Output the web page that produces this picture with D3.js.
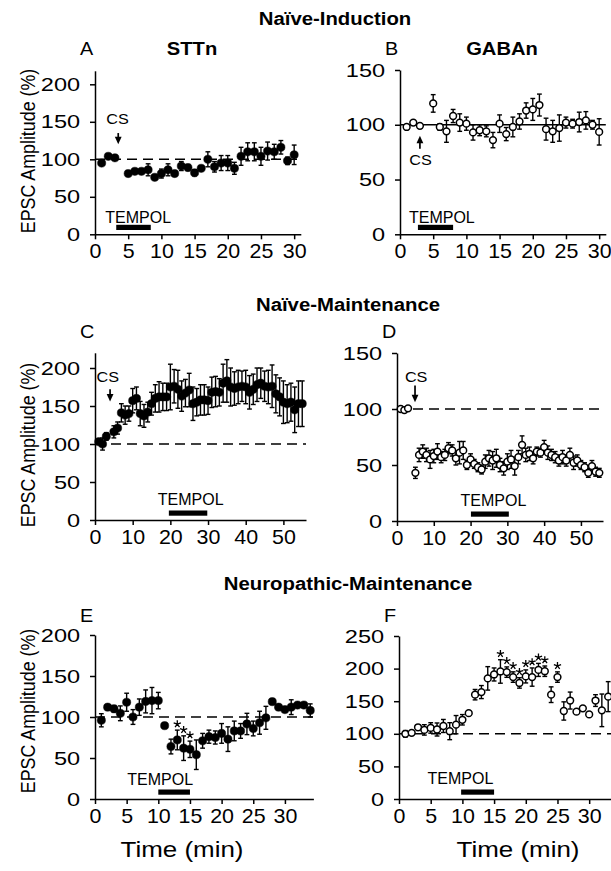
<!DOCTYPE html>
<html>
<head>
<meta charset="utf-8">
<style>
  body { margin: 0; background: #fff; }
  svg { display: block; font-family: "Liberation Sans", Arial, sans-serif; }
  .axis path, .axis line { stroke: #000; stroke-width: 1.5px; }
  .axis text { fill: #000; font-family: "Liberation Sans", Arial, sans-serif; }
</style>
</head>
<body>
<svg width="611" height="871"></svg>
<script src="https://d3js.org/d3.v7.min.js"></script>
<script>
// ---- values ----
// A: STTn, naive induction (filled)
let timeA = [1,2,3,5,6,7,8,9,10,11,12,13,14,15,16,17,18,19,20,21,22,23,24,25,26,27,28,29,30]
let meanA = [95,104,102,81,84,84,86,76,81,86,81,91,89,82,88,100,90,95,95,88,104,110,110,104,111,110,116,98,106]
let errA  = [3,2,2,3,3,3,8,3,6,8,3,6,4,4,3,10,7,10,10,8,12,12,12,12,12,10,9,5,13]

// B: GABAn, naive induction (open)
let timeB = [1,2,3,5,6,7,8,9,10,11,12,13,14,15,16,17,18,19,20,21,22,23,24,25,26,27,28,29,30]
let meanB = [98,102,99,119.5,98,94,108,102,101,93,95,94,86,101,91.5,98,103,113,114,118,96,94,97,102,101,102.5,104,100,93.5]
let errB  = [2,2,2,8,3,10,6,8,6,7,5,5,7,8,6,9,7,7,10,10,10,10,12,5,4,9,8,4,12]

// C: STTn, naive maintenance (filled)
let timeC = [1,2,3,5,6,7,8,9,10,11,12,13,14,15,16,17,18,19,20,21,22,23,24,25,26,27,28,29,30,
             31,32,33,34,35,36,37,38,39,40,41,42,43,44,45,46,47,48,49,50,51,52,53,54,55]
let meanC = [103,100,110,116,121,141,138,140,157,160,140,137,142,153,160,162,162,162,175,176,172,163,167,171,153,155,158,158,157,
             168,169,168,180,183,175,173,175,176,175,168,172,178,180,176,175,176,166,162,155,153,155,145,153,153]
let errC  = [3,8,5,8,8,12,12,10,16,15,16,15,13,15,18,20,18,18,30,22,25,20,18,22,22,18,20,20,18,
             20,20,18,25,28,25,22,22,20,22,22,20,22,20,20,22,28,25,25,28,25,25,30,30,30]

// D: GABAn, naive maintenance (open)
let timeD = timeC
let meanD = [100,99,100.6,43,59,62,59,55,58,62,57,59,65,63,56,61,63,50,55,51,48,46,53,56,54,56,50,47,53,
             55,49,57,68,59,60,56,62,61,66,61,59,57,54,57,54,59,52,54,50,48,43,49,44,43]
let errD  = [1,1,1,5,6,6,6,8,6,7,5,5,5,5,6,10,8,4,5,4,4,4,6,7,8,8,6,6,7,
             8,8,6,8,6,6,5,4,4,6,6,5,5,5,6,5,6,6,5,4,4,4,5,4,4]

// E: STTn, neuropathic maintenance (filled)
let timeE = [1,2,3,4,5,6,7,8,9,10,11,12,13,14,15,16,17,18,19,20,21,22,23,24,25,26,27,28,29,30,31,32,33,34]
let meanE = [96,112,110,104.5,118,100,112,119,120,120,89.4,64,72,62,60.6,54,71,76,75,80,73,83,83,91.5,86,93,99,118.7,112,109,112,114.6,114.6,108]
let errE  = [8,3,4,9,11,9,10,14,16,10,3,9,12,15,10,18,9,8,8,12,15,12,9,13,9,14,14,3,3,3,9,3,3,8]
let starsE = [13,14,15]

// F: GABAn, neuropathic maintenance (open)
let timeF = [1,2,3,4,5,6,7,8,9,10,11,12,13,14,15,16,17,18,19,20,21,22,23,24,25,26,27,28,29,30,31,32,33]
let meanF = [100,101.5,110,106,109,106.6,112,104,114,121.5,131.7,160,164,185,191,195.6,194.6,187,178,188,187,198,196,160,187,135,151,134,139,129.7,151,136,157]
let errF  = [5,2,3,8,8,10,10,13,14,8,3,8,10,18,10,18,8,8,8,10,14,10,8,12,8,14,13,3,3,3,9,25,23]
let starsF = [16,17,18,19,20,21,22,23,25]

// tick values
let ticksX30 = [0,5,10,15,20,25,30]
let ticksX50 = [0,10,20,30,40,50]
let ticksY200 = [0,50,100,150,200]
let ticksY150 = [0,50,100,150]
let ticksY250 = [0,50,100,150,200,250]

// tempol application windows (min) and CS arrows [time, tail, tip]
let tempolA = [3.2, 8.4], tempolB = [2.7, 8.0], tempolC = [19.6, 29.8]
let tempolD = [20.1, 30.4], tempolE = [10, 15], tempolF = [9.8, 15]
let csA = [3.5, 135, 120], csB = [3.0, 78, 90], csC = [4.0, 172, 156], csD = [4.9, 121, 106]

let sectionTitles = ["Naïve-Induction", "Naïve-Maintenance", "Neuropathic-Maintenance"]

let svg = d3.select("svg")

// text helper: the figure's lettering is horizontally stretched
function label(x, y, str, size, opts) {
    opts = opts || {}
    let sx = opts.sx || 1
    let rot = opts.rotate ? ` rotate(${opts.rotate})` : ""
    return svg.append("text")
        .attr("transform", `translate(${x},${y})${rot} scale(${sx},1)`)
        .attr("text-anchor", opts.anchor || "start")
        .style("font-size", size + "px")
        .style("font-weight", opts.bold ? "bold" : "normal")
        .style("fill", "#000")
        .text(str)
}

// five-armed asterisk drawn as a path
function star(cx, cy) {
    let r = 3.8, d = ""
    for (let k = 0; k < 5; k++) {
        let a = (-90 + k * 72) * Math.PI / 180
        d += `M${cx},${cy}L${cx + r * Math.cos(a)},${cy + r * Math.sin(a)}`
    }
    svg.append("path").attr("d", d)
        .style("stroke", "#000").style("stroke-width", "1.3px").style("fill", "none")
}

let panels = [
    { letter: "A", name: "STTn", t: timeA, m: meanA, e: errA, open: false,
      xd: [0, 31], xr: [95, 300.8], yd: [0, 218], yr: [234.3, 70.8],
      xt: ticksX30, yt: ticksY200, dashed: true,
      tempol: tempolA, tempolTextX: 6.5, tempolTextDy: 11.6,
      cs: csA, csTextX: 3.4, csTextY: 147, stars: [] },
    { letter: "B", name: "GABAn", t: timeB, m: meanB, e: errB, open: true,
      xd: [0, 31], xr: [400, 605.8], yd: [0, 150], yr: [234.3, 70],
      xt: ticksX30, yt: ticksY150, dashed: false,
      tempol: tempolB, tempolTextX: 6.3, tempolTextDy: 11.6,
      cs: csB, csTextX: 3.1, csTextY: 63, stars: [] },
    { letter: "C", t: timeC, m: meanC, e: errC, open: false,
      xd: [0, 56], xr: [95, 306], yd: [0, 220], yr: [520, 352.8],
      xt: ticksX50, yt: ticksY200, dashed: true,
      tempol: tempolC, tempolTextX: 25.4, tempolTextDy: 15,
      cs: csC, csTextX: 3.4, csTextY: 182, stars: [] },
    { letter: "D", t: timeD, m: meanD, e: errD, open: true,
      xd: [0, 56], xr: [397, 603], yd: [0, 150], yr: [521, 353],
      xt: ticksX50, yt: ticksY150, dashed: true,
      tempol: tempolD, tempolTextX: 26.2, tempolTextDy: 15,
      cs: csD, csTextX: 5.2, csTextY: 124, stars: [] },
    { letter: "E", t: timeE, m: meanE, e: errE, open: false,
      xd: [0, 34.5], xr: [95, 313.4], yd: [0, 200], yr: [799, 635],
      xt: ticksX30, yt: ticksY200, dashed: true,
      tempol: tempolE, tempolTextX: 10.3, tempolTextDy: 14,
      stars: starsE, xlabel: 182 },
    { letter: "F", t: timeF, m: meanF, e: errF, open: true,
      xd: [0, 34.5], xr: [399, 617.7], yd: [0, 250], yr: [799, 636],
      xt: ticksX30, yt: ticksY250, dashed: true,
      tempol: tempolF, tempolTextX: 9.7, tempolTextDy: 15,
      stars: starsF, xlabel: 518 }
]

panels.forEach(function (p) {
    let x = d3.scaleLinear().domain(p.xd).range(p.xr)
    let y = d3.scaleLinear().domain(p.yd).range(p.yr)
    let g = svg.append("g")
    let y0 = p.yr[0]

    // reference line at 100 %
    g.append("line")
        .attr("x1", x(0)).attr("x2", x(p.xd[1]))
        .attr("y1", y(100)).attr("y2", y(100))
        .style("stroke", "#000").style("stroke-width", "1.5px")
        .style("stroke-dasharray", p.dashed ? "10,6" : null)

    // axes
    let xAxis = g.append("g").attr("class", "axis")
        .attr("transform", `translate(0,${y0})`)
        .call(d3.axisBottom(x).tickValues(p.xt).tickSize(5).tickSizeOuter(0).tickPadding(4))
    xAxis.selectAll("text").style("font-size", "21px")
        .attr("transform", "scale(1.02,1)")

    let yAxis = g.append("g").attr("class", "axis")
        .attr("transform", `translate(${p.xr[0]},0)`)
        .call(d3.axisLeft(y).tickValues(p.yt).tickSize(5).tickSizeOuter(0).tickPadding(7))
    yAxis.selectAll("text").style("font-size", "19px")
        .attr("transform", "scale(1.24,1)")

    // error bars
    let pts = p.t.map((t, i) => ({ t: t, m: p.m[i], e: p.e[i] }))
    let eb = g.append("g").style("stroke", "#000").style("stroke-width", "1.4px")
    eb.selectAll(".bar").data(pts).join("line")
        .attr("x1", d => x(d.t)).attr("x2", d => x(d.t))
        .attr("y1", d => y(d.m - d.e)).attr("y2", d => y(d.m + d.e))
    eb.selectAll(".capT").data(pts).join("line")
        .attr("x1", d => x(d.t) - 2.4).attr("x2", d => x(d.t) + 2.4)
        .attr("y1", d => y(d.m + d.e)).attr("y2", d => y(d.m + d.e))
    eb.selectAll(".capB").data(pts).join("line")
        .attr("x1", d => x(d.t) - 2.4).attr("x2", d => x(d.t) + 2.4)
        .attr("y1", d => y(d.m - d.e)).attr("y2", d => y(d.m - d.e))

    // markers
    g.append("g").selectAll("circle").data(pts).join("circle")
        .attr("cx", d => x(d.t)).attr("cy", d => y(d.m))
        .attr("r", p.open ? 3.4 : 4.1)
        .style("fill", p.open ? "#fff" : "#000")
        .style("stroke", "#000")
        .style("stroke-width", p.open ? "1.5px" : "0.5px")

    // significance stars
    p.stars.forEach(function (t) {
        let d = pts.find(q => q.t === t)
        star(x(t), y(d.m + d.e) - 6)
    })

    // TEMPOL bar
    g.append("rect")
        .attr("x", x(p.tempol[0])).attr("width", x(p.tempol[1]) - x(p.tempol[0]))
        .attr("y", y0 - 9.5).attr("height", 5.2)
        .style("fill", "#000")
    label(x(p.tempolTextX), y0 - p.tempolTextDy, "TEMPOL", 16, { anchor: "middle" })

    // CS arrow
    if (p.cs) {
        let cx = x(p.cs[0]), tail = y(p.cs[1]), tip = y(p.cs[2])
        let dir = tip > tail ? 1 : -1
        g.append("line")
            .attr("x1", cx).attr("x2", cx)
            .attr("y1", tail).attr("y2", tip - dir * 5)
            .style("stroke", "#000").style("stroke-width", "1.7px")
        g.append("path")
            .attr("d", `M${cx - 3.4},${tip - dir * 7.5}L${cx + 3.4},${tip - dir * 7.5}L${cx},${tip}Z`)
            .style("fill", "#000")
        label(x(p.csTextX), y(p.csTextY), "CS", 15, { anchor: "middle", sx: 1.08 })
    }

    // panel letter and cell name
    let top = p.letter === "A" || p.letter === "B" ? 55 : (p.letter === "C" || p.letter === "D" ? 338 : 622)
    label(p.xr[0] - 15, top, p.letter, 18, { sx: 1.1 })
    if (p.name) label(p.letter === "A" ? 192 : 502, top, p.name, 18, { anchor: "middle", bold: true, sx: 1.12 })

    if (p.xlabel) label(p.xlabel, 857, "Time (min)", 22, { anchor: "middle", sx: 1.18 })
})

// y-axis titles
;[151, 445, 711].forEach(function (cy) {
    label(35, cy, "EPSC Amplitude (%)", 21, { anchor: "middle", rotate: -90, sx: 0.85 })
})

// section titles
label(335, 25, sectionTitles[0], 18, { anchor: "middle", bold: true, sx: 1.13 })
label(348, 311, sectionTitles[1], 18, { anchor: "middle", bold: true, sx: 1.13 })
label(348, 590, sectionTitles[2], 18, { anchor: "middle", bold: true, sx: 1.13 })
</script>
</body>
</html>
